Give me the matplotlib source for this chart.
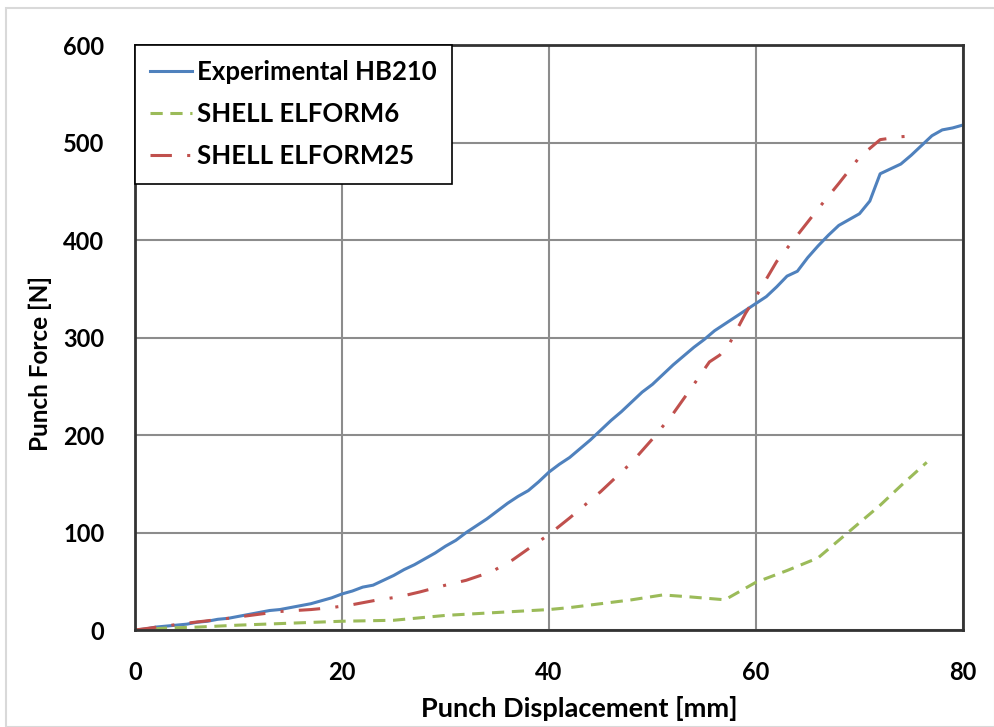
import matplotlib.pyplot as plt
from matplotlib.patches import Rectangle

# experimental curve
exp_x = [0, 1, 2, 3, 4, 5, 6, 7, 8, 9, 10, 11, 12, 13, 14, 15, 16, 17, 18, 19,
         20, 21, 22, 23, 24, 25, 26, 27, 28, 29, 30, 31, 32, 33, 34, 35, 36, 37, 38, 39,
         40, 41, 42, 43, 44, 45, 46, 47, 48, 49, 50, 51, 52, 53, 54, 55, 56, 57, 58, 59,
         60, 61, 62, 63, 64, 65, 66, 67, 68, 69, 70, 71, 72, 73, 74, 75, 76, 77, 78, 79, 80]
exp_y = [0, 1, 3, 4, 5, 6, 8, 9, 11, 12, 14, 16, 18, 20, 21, 23, 25, 27, 30, 33,
         37, 40, 44, 46, 51, 56, 62, 67, 73, 79, 86, 92, 100, 107, 114, 122, 130, 137, 143, 152,
         162, 170, 177, 186, 195, 205, 215, 224, 234, 244, 252, 262, 272, 281, 290, 298, 307, 314, 321, 328,
         335, 342, 352, 363, 368, 382, 394, 405, 415, 421, 427, 440, 468, 473, 478, 487, 497, 507, 513, 515, 518]

e6_x = [0, 3, 6, 10, 15, 20, 25, 27, 30, 35, 40, 42, 45, 48, 51, 53.6, 57, 60, 63, 66, 68, 70, 72, 74, 76.5]
e6_y = [0, 2, 3, 5, 7, 9, 10, 12, 15, 18, 21, 23, 27, 31, 36, 34, 31, 49, 61, 74, 92, 110, 128, 148, 172]

e25_x = [0, 5, 9, 14, 17, 19, 21, 23.5, 25.5, 27.5, 30, 32, 34.5, 36.5, 38.5, 40, 42, 45, 48, 50,
         52, 54, 55.5, 56.5, 57.5, 59, 60, 62, 64, 66, 68, 70, 72, 74, 75.5]
e25_y = [0, 7, 12, 19, 21, 23, 26, 31, 34, 39, 46, 51, 60, 72, 87, 98, 115, 142, 172, 196,
         222, 252, 275, 282, 295, 325, 342, 378, 405, 432, 458, 485, 503, 506, 507]

labels = ['Experimental HB210', 'SHELL ELFORM6', 'SHELL ELFORM25']

plt.rcParams['font.family'] = ['Lato', 'DejaVu Sans']
fig = plt.figure(figsize=(9.95, 7.27), dpi=100)
fig.patches.append(Rectangle((0.006, 0.0), 0.994, 0.989, transform=fig.transFigure,
                             fill=False, edgecolor='#d9d9d9', linewidth=1.5))
ax = fig.add_axes([0.1357, 0.1334, 0.8321, 0.8046])

ax.plot(exp_x, exp_y, color='#4F81BD', linewidth=2.2, label=labels[0])
ax.plot(e6_x, e6_y, color='#9BBB59', linewidth=2.2, linestyle=(0, (4, 2.5)), label=labels[1])
ax.plot(e25_x, e25_y, color='#C0504D', linewidth=2.2, linestyle=(0, (7, 5, 1, 5)), label=labels[2])

ax.set_xlim(0, 80)
ax.set_ylim(0, 600)
ax.set_xticks(range(0, 81, 20))
ax.set_yticks(range(0, 601, 100))
ax.grid(True, color='#8c8c8c', linewidth=1.5)
ax.set_axisbelow(True)
for s in ax.spines.values():
    s.set_linewidth(2)
    s.set_color('#333333')
ax.tick_params(axis='x', length=0, pad=22, labelsize=17)
ax.tick_params(axis='y', length=0, pad=22, labelsize=17)
for t in ax.get_xticklabels() + ax.get_yticklabels():
    t.set_fontweight('bold')
ax.set_xlabel('Punch Displacement [mm]', fontsize=19.5, fontweight='bold')
ax.set_ylabel('Punch Force [N]', fontsize=17.5, fontweight='bold')
ax.xaxis.set_label_coords(0.537, -0.113)
ax.yaxis.set_label_coords(-0.100, 0.455)

leg = ax.legend(loc='upper left', fancybox=False, borderaxespad=0, frameon=True,
                prop={'size': 18.5, 'weight': 'bold'}, handlelength=1.6, handletextpad=0.2,
                borderpad=0.6, labelspacing=0.7)
leg.get_frame().set_edgecolor('black')
leg.get_frame().set_linewidth(1.2)
leg.get_frame().set_alpha(1)

plt.savefig('out.png', dpi=100)
